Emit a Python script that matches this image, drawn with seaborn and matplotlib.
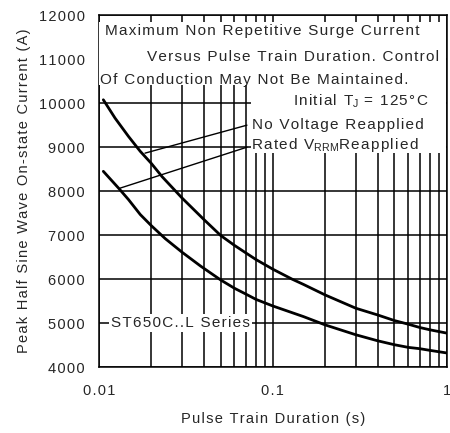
import numpy as np
import pandas as pd
import matplotlib
matplotlib.use('Agg')
import matplotlib.pyplot as plt
import seaborn as sns
from matplotlib.patches import Rectangle


# curves (log x)
t_no_volt = [0.01059, 0.01237, 0.01477, 0.01727, 0.02, 0.02305, 0.03, 0.04, 0.05, 0.06,
             0.07, 0.08, 0.1, 0.129, 0.15, 0.2, 0.3, 0.4, 0.5, 0.6, 0.7, 0.8, 1.0]
i_no_volt = [10077, 9660, 9245, 8905, 8630, 8330, 7846, 7360, 6995, 6770,
             6595, 6445, 6226, 6000, 5880, 5640, 5339, 5187, 5059, 4977, 4901, 4849, 4774]

t_rated = [0.01059, 0.01293, 0.01477, 0.01727, 0.02, 0.02406, 0.03, 0.0384, 0.05, 0.06,
           0.07, 0.08, 0.1, 0.15, 0.2, 0.3, 0.4, 0.5, 0.6, 0.7, 0.8, 1.0]
i_rated = [8451, 8073, 7810, 7469, 7215, 6920, 6614, 6297, 5984, 5795,
           5660, 5540, 5390, 5149, 4960, 4736, 4600, 4510, 4450, 4420, 4382, 4323]

y_ticks = [4000, 5000, 6000, 7000, 8000, 9000, 10000, 11000, 12000]
x_ticks = [0.01, 0.1, 1]
x_ticklabels = ['0.01', '0.1', '1']

HS = '\u200a'


def spaced(s):
    return HS.join(s)


df = pd.concat([
    pd.DataFrame({'t': t_no_volt, 'i': i_no_volt, 'curve': 'No Voltage Reapplied'}),
    pd.DataFrame({'t': t_rated, 'i': i_rated, 'curve': 'Rated VRRM Reapplied'}),
])

sns.set_style('white')
plt.rcParams['font.family'] = ['Liberation Sans', 'DejaVu Sans']
plt.rcParams['mathtext.fontset'] = 'custom'
plt.rcParams['mathtext.rm'] = 'Liberation Sans'

fig = plt.figure(figsize=(4.5, 4.33), dpi=100)
ax = fig.add_axes([0.22, 0.152, 0.773, 0.813])

sns.lineplot(data=df, x='t', y='i', units='curve', estimator=None, color='black',
             linewidth=2.0, ax=ax, zorder=5, legend=False)

ax.set_xscale('log')
ax.set_xlim(0.01, 1)
ax.set_ylim(4000, 12000)
ax.set_yticks(y_ticks)
ax.set_yticklabels([spaced(str(v)) for v in y_ticks], fontsize=10.5)
ax.set_xticks(x_ticks)
ax.set_xticklabels([spaced(s) for s in x_ticklabels], fontsize=10.5)
ax.tick_params(axis='both', length=0, pad=10)
ax.tick_params(axis='x', pad=12)

ax.grid(True, which='both', axis='x', color='black', linewidth=1.1)
ax.grid(True, which='major', axis='y', color='black', linewidth=1.1)
for s in ax.spines.values():
    s.set_color('black')
    s.set_linewidth(1.1)

ax.set_xlabel(spaced('Pulse Train Duration (s)'), fontsize=10.5, labelpad=10)
ax.set_ylabel(spaced('Peak Half Sine Wave On-state Current (A)'), fontsize=10.5, labelpad=6)

# white masks behind the annotation text
masks = [
    (0.01, 0.985, 10420, 11840),
    (0.0185, 0.985, 10420, 11330),
    (0.0745, 0.985, 9040, 10420),
    (0.0745, 0.985, 8860, 9040),
]
for x0, x1, y0, y1 in masks:
    ax.add_patch(Rectangle((x0, y0), x1 - x0, y1 - y0, facecolor='white',
                           edgecolor='none', zorder=3))

fs = 11
ax.text(0.0108, 11640, spaced('Maximum Non Repetitive Surge Current'), fontsize=fs,
        va='center', ha='left', zorder=6)
ax.text(0.0188, 11045, spaced('Versus Pulse Train Duration. Control'), fontsize=fs,
        va='center', ha='left', zorder=6)
ax.text(0.0101, 10530, spaced('Of Conduction May Not Be Maintained.'), fontsize=fs,
        va='center', ha='left', zorder=6)
ax.text(0.78, 10045, spaced('Initial T') + r'$_\mathregular{J}$' + spaced(' = 125°C'),
        fontsize=fs, va='center', ha='right', zorder=6)
ax.text(0.0757, 9500, spaced('No Voltage Reapplied'), fontsize=fs,
        va='center', ha='left', zorder=6)
ax.text(0.0745, 9050, spaced('Rated V') + r'$_\mathregular{RRM}$' + spaced('Reapplied'),
        fontsize=fs, va='center', ha='left', zorder=6)
ax.text(0.0117, 5000, spaced('ST650C..L Series'), fontsize=fs, va='center', ha='left',
        zorder=6, bbox=dict(facecolor='white', edgecolor='none', pad=1.5))

# leader lines
ax.plot([0.01838, 0.0709], [8864, 9500], color='black', linewidth=1.0, zorder=6)
ax.plot([0.0132, 0.0709], [8068, 9000], color='black', linewidth=1.0, zorder=6)

fig.savefig('out.png', dpi=100)
